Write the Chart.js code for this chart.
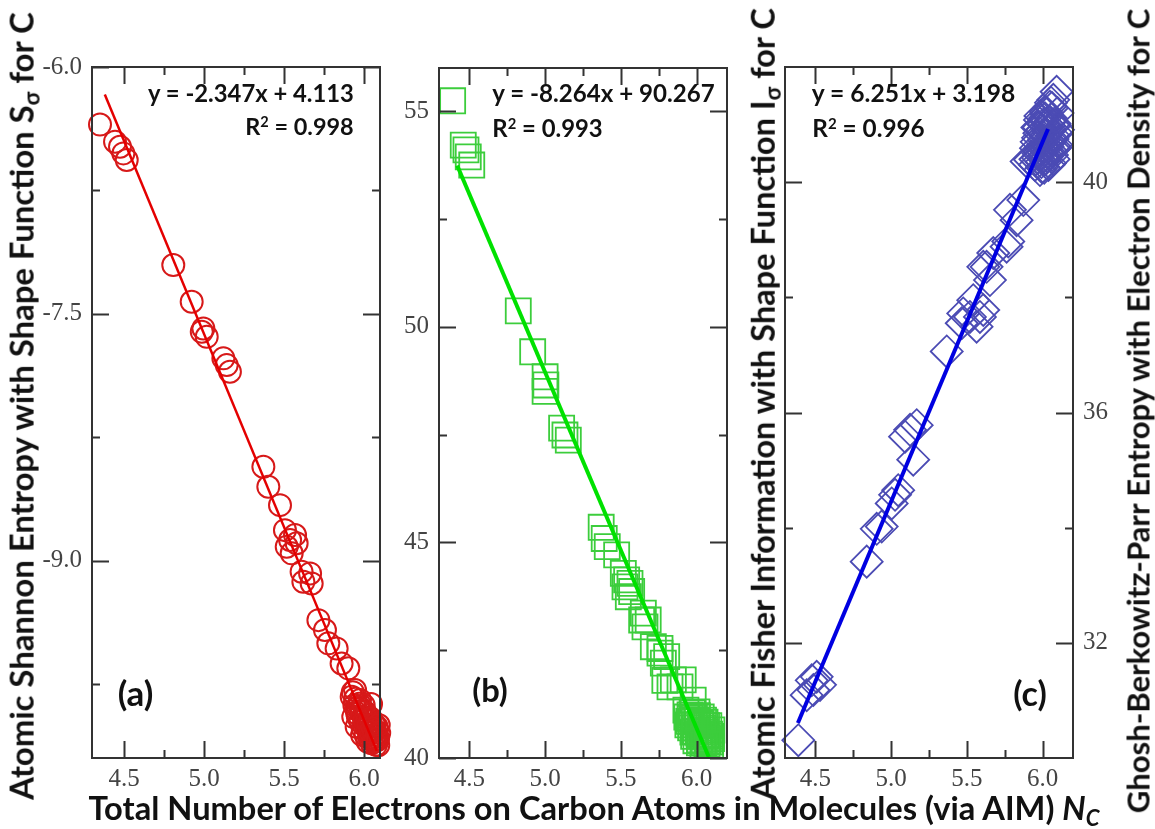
<!DOCTYPE html>
<html>
<head>
<meta charset="utf-8">
<script src="https://cdn.jsdelivr.net/npm/chart.js@4.4.1/dist/chart.umd.min.js"></script>
<style>
  html, body { margin: 0; padding: 0; background: #fff; }
  #stage { position: relative; width: 1155px; height: 829px; overflow: hidden; background: #fff; }
  #stage canvas { position: absolute; left: 0; top: 0; }
  .txt { position: absolute; white-space: nowrap; font-family: Lato, "Open Sans", sans-serif; font-weight: 700;
         color: #111; line-height: 1; transform-origin: center center; }
  .txt sub { font-size: 0.68em; vertical-align: -0.28em; line-height: 0; }
  .txt sup { font-size: 0.62em; vertical-align: 0.55em; line-height: 0; }
</style>
</head>
<body>
<div id="stage">
  <canvas id="panelA" width="1155" height="829"></canvas>
  <canvas id="panelB" width="1155" height="829"></canvas>
  <canvas id="panelC" width="1155" height="829"></canvas>
</div>
<script>
// Electron count on carbon (N_C) and Shannon entropy S_sigma, panel (a)
const ncShannon = [4.350, 4.444, 4.475, 4.496, 4.517, 4.808, 4.923, 4.986, 4.996, 5.017,
  5.121, 5.142, 5.162, 5.371, 5.402, 5.475, 5.506, 5.569, 5.538, 5.517,
  5.579, 5.548, 5.610, 5.663, 5.621, 5.673, 5.715, 5.756, 5.777, 5.829,
  5.860, 5.902,
  5.923, 5.964, 5.996, 6.017, 6.038, 6.069, 6.089, 6.079, 6.095, 5.933,
  5.954, 5.975, 6.006, 6.025, 6.050, 5.988, 5.944, 6.044, 6.000, 6.060,
  5.980, 6.030, 6.070, 5.958, 6.012, 6.058, 6.085, 5.940,
  5.930, 5.945, 5.950, 5.962, 5.970, 5.978, 5.985, 5.992, 6.003, 6.010,
  6.018, 6.022, 6.028, 6.035, 6.042, 6.048, 6.055, 6.062, 6.066, 6.075,
  6.080, 6.088, 6.092, 5.998, 6.040];
const shannon = [-6.350, -6.454, -6.485, -6.525, -6.565, -7.204, -7.427, -7.609, -7.589, -7.640,
  -7.771, -7.812, -7.852, -8.430, -8.551, -8.663, -8.815, -8.845, -8.875, -8.916,
  -8.895, -8.956, -9.068, -9.078, -9.129, -9.139, -9.362, -9.422, -9.503, -9.534,
  -9.625, -9.655,
  -9.828, -9.889, -9.950, -10.010, -10.051, -10.091, -10.122, -10.010, -10.048, -9.950,
  -10.010, -9.848, -9.921, -9.970, -10.080, -10.060, -9.787, -9.872, -10.000, -9.990,
  -9.900, -10.030, -10.060, -9.930, -9.960, -10.030, -10.090, -9.880,
  -9.800, -9.840, -9.900, -9.950, -9.870, -9.980, -9.920, -10.020, -9.970, -10.060,
  -9.940, -10.100, -10.000, -10.080, -9.960, -10.110, -10.020, -10.100, -10.000, -10.120,
  -10.060, -10.080, -10.000, -9.880, -10.040];

// N_C and Fisher information I_sigma, panel (b)
const ncFisher = [4.390, 4.460, 4.478, 4.493, 4.516, 4.823, 4.918, 5.000, 5.005, 5.000,
  5.109, 5.131, 5.153, 5.370, 5.390, 5.410, 5.472, 5.516, 5.538, 5.560,
  5.527, 5.571, 5.549, 5.648, 5.680, 5.659, 5.637, 5.714, 5.758, 5.802,
  5.780, 5.758, 5.846, 5.890, 5.790, 5.824, 5.911, 5.977,
  5.929, 5.956, 5.982, 6.008, 6.035, 6.061, 6.088, 6.021, 5.975, 6.055,
  6.100, 6.002, 5.942, 6.041, 6.070, 5.990, 6.030, 6.080, 5.965, 6.015,
  6.050, 6.095,
  5.935, 5.948, 5.960, 5.970, 5.980, 5.985, 5.995, 6.000, 6.010, 6.018,
  6.025, 6.032, 6.040, 6.048, 6.058, 6.065, 6.075, 6.085, 6.092, 6.098,
  5.958, 6.005, 6.045, 6.068, 5.990];
const fisher = [55.24, 54.21, 54.10, 53.94, 53.75, 50.37, 49.42, 48.84, 48.65, 48.50,
  47.65, 47.49, 47.37, 45.35, 45.09, 44.90, 44.71, 44.28, 44.13, 44.05,
  43.97, 43.86, 43.74, 43.36, 43.20, 43.04, 43.20, 42.58, 42.54, 42.35,
  42.20, 42.43, 41.81, 41.65, 41.80, 41.65, 41.81, 41.34,
  41.11, 41.00, 40.88, 40.77, 40.65, 40.53, 40.37, 40.42, 40.60, 40.83,
  40.65, 41.07, 40.77, 40.30, 40.45, 40.70, 40.95, 40.75, 40.85, 40.55,
  40.40, 40.50,
  40.95, 40.85, 40.70, 41.05, 40.50, 40.95, 40.40, 40.85, 40.60, 40.35,
  40.80, 40.50, 40.70, 40.35, 40.60, 40.75, 40.40, 40.55, 40.30, 40.45,
  40.92, 40.98, 40.88, 40.32, 40.62];

// N_C and Ghosh-Berkowitz-Parr entropy, panel (c)
const ncGbp = [4.388, 4.476, 4.509, 4.443, 4.487, 4.531, 4.839, 4.938, 4.905, 5.026,
  5.004, 5.047, 5.146, 5.092, 5.169, 5.125, 5.367, 5.466, 5.520, 5.564,
  5.608, 5.542, 5.652, 5.608, 5.674, 5.773, 5.784, 5.872, 5.828, 5.894,
  5.916, 5.982, 6.092, 6.070, 6.048, 5.476, 5.586, 5.762, 5.630,
  5.982, 6.015, 6.048, 6.081, 5.995, 6.035, 6.068, 5.969, 6.008, 6.048,
  6.088, 5.956, 5.989, 6.028, 6.061, 5.969, 6.015, 6.048, 5.995, 5.949,
  6.101, 6.022, 6.061, 6.000, 6.040, 6.075, 5.975, 6.030,
  5.952, 5.960, 5.965, 5.972, 5.978, 5.985, 5.992, 5.998, 6.005, 6.012,
  6.018, 6.025, 6.032, 6.038, 6.045, 6.052, 6.058, 6.065, 6.072, 6.078,
  6.085, 6.092, 6.098, 6.010, 6.055];
const gbp = [30.31, 31.35, 31.41, 31.09, 31.18, 31.27, 33.41, 34.02, 33.98, 34.57,
  34.42, 34.65, 35.18, 35.58, 35.78, 35.70, 37.06, 37.55, 37.66, 37.49,
  37.78, 37.95, 38.30, 38.53, 38.77, 38.97, 39.52, 39.69, 39.34, 40.36,
  40.39, 40.21, 41.57, 41.43, 41.31, 37.72, 37.66, 38.88, 38.53,
  41.08, 41.11, 41.05, 40.99, 40.91, 40.87, 40.82, 40.77, 40.73, 40.70,
  40.65, 40.59, 40.56, 40.52, 40.47, 40.42, 40.39, 40.33, 40.26, 40.30,
  40.91, 41.22, 41.29, 40.64, 40.98, 40.58, 40.95, 40.45,
  40.40, 40.70, 40.95, 40.50, 40.85, 41.15, 40.35, 40.60, 41.00, 40.45,
  40.80, 41.18, 40.62, 40.30, 40.92, 40.55, 41.10, 40.75, 40.40, 41.02,
  40.60, 40.85, 41.20, 40.25, 41.38];

// Linear fits printed in each panel: (a), (b), (c)
const fitSlope = [-2.347, -8.264, 6.251];
const fitIntercept = [4.113, 90.267, 3.198];
const fitR2 = [0.998, 0.993, 0.996];
const fitFrom = [4.38, 4.42, 4.385];
const fitTo = [6.08, 6.08, 6.035];

// Axis ticks
const xMajor = [4.5, 5.0, 5.5, 6.0];
const xMinor = [4.75, 5.25, 5.75];
const yMajorA = [-9.0, -7.5, -6.0];
const yMinorA = [-9.75, -8.25, -6.75];
const yMajorB = [40, 45, 50, 55];
const yMinorB = [42.5, 47.5, 52.5];
const yMajorC = [32, 36, 40];
const yMinorC = [34, 38];

const W = 1155, H = 829;
const AXW = 60, AXH = 40;

function tickList(major, minor) {
  return major.map(v => ({ value: v, lvl: 1 }))
    .concat(minor.map(v => ({ value: v, lvl: 0 })))
    .sort((a, b) => a.value - b.value);
}

// Box frame with inward tick marks on all four sides
const frameTicks = {
  id: 'frameTicks',
  afterDatasetsDraw(chart) {
    const { ctx, chartArea: a, scales } = chart;
    const xs = scales.x, ys = scales.y;
    ctx.save();
    ctx.strokeStyle = '#333';
    ctx.lineWidth = 2;
    ctx.beginPath();
    xs.ticks.forEach(t => {
      const p = Math.round(xs.getPixelForValue(t.value)) + 0.5;
      const L = t.lvl ? 17 : 8;
      ctx.moveTo(p, a.bottom); ctx.lineTo(p, a.bottom - L);
      ctx.moveTo(p, a.top); ctx.lineTo(p, a.top + L);
    });
    ys.ticks.forEach(t => {
      const p = Math.round(ys.getPixelForValue(t.value)) + 0.5;
      const L = t.lvl ? 17 : 8;
      ctx.moveTo(a.left, p); ctx.lineTo(a.left + L, p);
      ctx.moveTo(a.right, p); ctx.lineTo(a.right - L, p);
    });
    ctx.stroke();
    ctx.strokeRect(a.left, a.top, a.right - a.left, a.bottom - a.top);
    ctx.restore();
  }
};

function makePanel(id, p) {
  const padding = p.yPos === 'left'
    ? { left: p.area.l - AXW, right: W - p.area.r, top: p.area.t, bottom: H - p.area.b - AXH }
    : { left: p.area.l, right: W - p.area.r - AXW, top: p.area.t, bottom: H - p.area.b - AXH };
  const i = p.fit;
  const fitLine = [fitFrom[i], fitTo[i]].map(x => ({ x, y: fitSlope[i] * x + fitIntercept[i] }));
  const pts = p.xs.map((x, k) => ({ x, y: p.ys[k] }));
  const tickFont = { family: '"Liberation Serif", "DejaVu Serif", serif', size: 25 };
  return new Chart(document.getElementById(id), {
    type: 'scatter',
    data: {
      datasets: [
        { data: fitLine, showLine: true, pointRadius: 0, borderColor: p.lineColor,
          borderWidth: p.lineWidth, clip: false },
        { data: pts, pointStyle: p.marker, pointRadius: p.markerR, borderColor: p.markerColor,
          borderWidth: p.markerW, backgroundColor: 'rgba(0,0,0,0)', clip: false }
      ]
    },
    options: {
      responsive: false, animation: false, devicePixelRatio: 1, events: [],
      layout: { padding, autoPadding: false },
      plugins: { legend: { display: false }, tooltip: { enabled: false } },
      scales: {
        x: {
          type: 'linear', position: 'bottom', min: p.xMin, max: p.xMax,
          grid: { display: false, drawTicks: false }, border: { display: false },
          afterBuildTicks: s => { s.ticks = tickList(xMajor, xMinor); },
          afterFit: s => { s.height = AXH; },
          ticks: { autoSkip: false, maxRotation: 0, padding: 6, font: tickFont, color: '#444',
                   callback: v => xMajor.includes(v) ? v.toFixed(1) : '' }
        },
        y: {
          type: 'linear', position: p.yPos, min: p.yMin, max: p.yMax,
          grid: { display: false, drawTicks: false }, border: { display: false },
          afterBuildTicks: s => { s.ticks = tickList(p.yMajor, p.yMinor); },
          afterFit: s => { s.width = AXW; },
          ticks: { autoSkip: false, padding: 10, font: tickFont, color: '#444',
                   callback: v => p.yMajor.includes(v) ? p.yFmt(v) : '' }
        }
      }
    },
    plugins: [frameTicks]
  });
}

makePanel('panelA', {
  area: { l: 92, r: 380, t: 67, b: 758 }, yPos: 'left',
  xMin: 4.3, xMax: 6.1, yMin: -10.2, yMax: -6.0,
  yMajor: yMajorA, yMinor: yMinorA, yFmt: v => v.toFixed(1),
  xs: ncShannon, ys: shannon, fit: 0,
  lineColor: 'rgb(228,0,0)', lineWidth: 2.5,
  marker: 'circle', markerR: 11, markerColor: 'rgb(215,25,25)', markerW: 2
});
makePanel('panelB', {
  area: { l: 439, r: 727, t: 68, b: 758 }, yPos: 'left',
  xMin: 4.3, xMax: 6.2, yMin: 40, yMax: 56,
  yMajor: yMajorB, yMinor: yMinorB, yFmt: v => String(v),
  xs: ncFisher, ys: fisher, fit: 1,
  lineColor: 'rgb(0,225,0)', lineWidth: 4,
  marker: 'rect', markerR: 17.7, markerColor: 'rgb(60,205,60)', markerW: 1.8
});
makePanel('panelC', {
  area: { l: 785, r: 1073, t: 67, b: 758 }, yPos: 'right',
  xMin: 4.3, xMax: 6.2, yMin: 30, yMax: 42,
  yMajor: yMajorC, yMinor: yMinorC, yFmt: v => String(v),
  xs: ncGbp, ys: gbp, fit: 2,
  lineColor: 'rgb(0,0,225)', lineWidth: 4,
  marker: 'rectRot', markerR: 16, markerColor: 'rgb(75,75,180)', markerW: 1.8
});

// Text: equations, panel tags and axis titles
function eqText(i) {
  const m = fitSlope[i], b = fitIntercept[i];
  return 'y = ' + m.toFixed(3) + 'x ' + (b < 0 ? '-' : '+') + ' ' + Math.abs(b).toFixed(3);
}
function r2Text(i) { return 'R<sup>2</sup> = ' + fitR2[i].toFixed(3); }

const labels = [
  { html: eqText(0), cx: 251, cy: 93, w: 206 },
  { html: r2Text(0), cx: 299.5, cy: 127, w: 109 },
  { html: eqText(1), cx: 603.5, cy: 93, w: 223 },
  { html: r2Text(1), cx: 547.5, cy: 128, w: 111 },
  { html: eqText(2), cx: 913.5, cy: 93, w: 203 },
  { html: r2Text(2), cx: 868.5, cy: 128, w: 113 },
  { html: '(a)', cx: 135.5, cy: 692, w: 35 },
  { html: '(b)', cx: 490, cy: 690, w: 36 },
  { html: '(c)', cx: 1030, cy: 693, w: 34 },
  { html: 'Total Number of Electrons on Carbon Atoms in Molecules (via AIM) <i>N</i><sub><i>C</i></sub>',
    cx: 594, cy: 808, w: 1012 },
  { html: 'Atomic Shannon Entropy with Shape Function S<sub>σ</sub> for C', cx: 22, cy: 406, w: 788, rot: -90 },
  { html: 'Atomic Fisher Information with Shape Function I<sub>σ</sub> for C', cx: 763, cy: 404, w: 792, rot: -90 },
  { html: 'Ghosh-Berkowitz-Parr Entropy with Electron Density for C', cx: 1138, cy: 411, w: 805, rot: -90 }
];

const stage = document.getElementById('stage');
labels.forEach(l => {
  const el = document.createElement('div');
  el.className = 'txt';
  el.innerHTML = l.html;
  el.style.fontSize = '20px';
  stage.appendChild(el);
  const base = el.offsetWidth;
  el.style.fontSize = (20 * l.w / base).toFixed(2) + 'px';
  el.style.left = l.cx + 'px';
  el.style.top = l.cy + 'px';
  el.style.transform = 'translate(-50%, -50%)' + (l.rot ? ' rotate(' + l.rot + 'deg)' : '');
});
</script>
</body>
</html>
